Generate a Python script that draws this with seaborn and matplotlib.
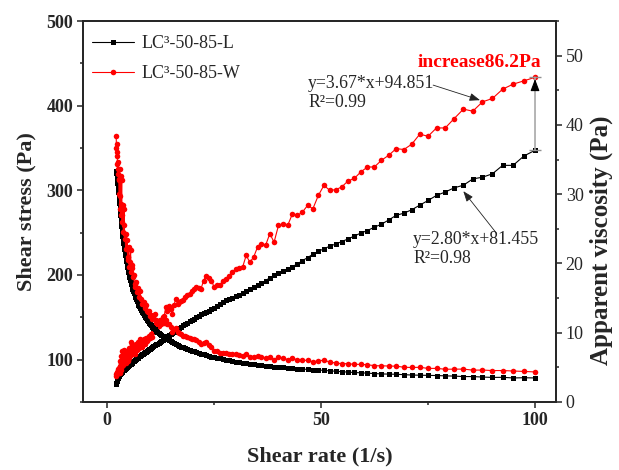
import matplotlib
matplotlib.use("Agg")
import matplotlib.pyplot as plt
import seaborn as sns
from matplotlib.ticker import MultipleLocator
from matplotlib.lines import Line2D

# ---------------- data ----------------
rate = [2.15, 2.21, 2.27, 2.33, 2.39, 2.45, 2.51, 2.58, 2.65, 2.72,
        2.79, 2.87, 2.94, 3.02, 3.10, 3.18, 3.27, 3.35, 3.44, 3.53,
        3.62, 3.72, 3.82, 3.92, 4.02, 4.13, 4.24, 4.35, 4.47, 4.59,
        4.71, 4.83, 4.96, 5.09, 5.23, 5.36, 5.51, 5.65, 5.80, 5.95,
        6.11, 6.27, 6.44, 6.61, 6.78, 6.96, 7.15, 7.34, 7.53, 7.73,
        7.94, 8.15, 8.36, 8.58, 8.81, 9.04, 9.28, 9.53, 9.78, 10.04,
        10.30, 10.58, 10.86, 11.14, 11.44, 11.74, 12.05, 12.37, 12.70, 13.03,
        13.38, 13.73, 14.10, 14.47, 14.85, 15.25, 15.65, 16.06, 16.49, 16.93,
        17.37, 17.83, 18.31, 18.79, 19.29, 19.80, 20.32, 20.86, 21.41, 21.98,
        22.56, 23.16, 23.77, 24.40, 25.04, 25.71, 26.39, 27.08, 27.80, 28.54,
        29.29, 30.07, 30.86, 31.68, 32.52, 33.38, 34.26, 35.17, 36.10, 37.05,
        38.04, 39.04, 40.07, 41.14, 42.22, 43.34, 44.49, 45.66, 46.87, 48.11,
        49.39, 50.69, 52.04, 53.41, 54.83, 56.28, 57.77, 59.29, 60.86, 62.47,
        64.13, 65.82, 67.57, 69.35, 71.19, 73.07, 75.01, 76.99, 79.03, 81.12,
        83.27, 85.47, 87.73, 90.05, 92.44, 94.88, 97.39, 100.0]

stress_L = [71.6, 73.0, 74.3, 75.5, 76.5, 77.5, 78.5, 79.5, 80.3, 81.0,
            81.8, 82.3, 82.8, 83.3, 83.8, 84.3, 84.8, 85.3, 85.8, 86.3,
            86.8, 87.2, 87.7, 88.2, 88.7, 89.2, 89.7, 90.2, 90.7, 91.2,
            91.8, 92.4, 93.0, 93.6, 94.2, 94.8, 95.4, 96.0, 96.6, 97.3,
            98.0, 98.7, 99.4, 100.1, 100.8, 101.5, 102.3, 103.1, 103.9, 104.7,
            105.5, 106.3, 107.1, 107.9, 108.7, 109.5, 110.4, 111.3, 112.2, 113.1,
            114.0, 115.0, 116.0, 117.0, 118.0, 119.0, 120.1, 121.2, 122.3, 123.5,
            124.8, 126.1, 127.4, 128.8, 130.2, 131.6, 133.0, 134.5, 136.0, 137.5,
            139.0, 140.5, 142.0, 143.6, 145.2, 146.8, 148.4, 150.0, 151.7, 153.4,
            155.0, 156.5, 158.0, 160.0, 161.5, 163.5, 166.0, 168.0, 170.0, 171.5,
            173.0, 175.0, 176.5, 179.0, 181.0, 183.5, 186.0, 188.0, 190.5, 193.0,
            197.0, 199.5, 202.5, 205.0, 207.5, 210.0, 213.0, 217.0, 220.5, 224.5,
            228.0, 231.0, 234.0, 236.5, 239.5, 242.5, 246.0, 249.5, 252.5, 256.5,
            260.0, 265.0, 270.5, 273.0, 277.0, 282.5, 288.0, 294.0, 298.0, 303.0,
            306.0, 313.5, 315.5, 319.5, 329.5, 329.5, 340.5, 347.3]

visc_L = [33.30, 33.08, 32.80, 32.47, 32.05, 31.63, 31.21, 30.80, 30.30, 29.78,
          29.30, 28.72, 28.15, 27.59, 27.04, 26.50, 25.97, 25.45, 24.94, 24.44,
          23.94, 23.43, 22.96, 22.50, 22.04, 21.59, 21.16, 20.73, 20.30, 19.89,
          19.50, 19.13, 18.75, 18.39, 18.03, 17.68, 17.33, 16.99, 16.66, 16.34,
          16.03, 15.73, 15.44, 15.14, 14.86, 14.58, 14.31, 14.05, 13.79, 13.54,
          13.29, 13.05, 12.81, 12.57, 12.34, 12.11, 11.89, 11.68, 11.47, 11.27,
          11.06, 10.87, 10.68, 10.50, 10.32, 10.14, 9.97, 9.80, 9.63, 9.48,
          9.33, 9.18, 9.04, 8.90, 8.77, 8.63, 8.50, 8.37, 8.25, 8.12,
          8.00, 7.88, 7.76, 7.64, 7.53, 7.42, 7.30, 7.19, 7.09, 6.98,
          6.87, 6.76, 6.65, 6.56, 6.45, 6.36, 6.29, 6.20, 6.11, 6.01,
          5.91, 5.82, 5.72, 5.65, 5.57, 5.50, 5.43, 5.35, 5.28, 5.21,
          5.18, 5.11, 5.05, 4.98, 4.91, 4.85, 4.79, 4.75, 4.70, 4.67,
          4.62, 4.56, 4.50, 4.43, 4.37, 4.31, 4.26, 4.21, 4.15, 4.11,
          4.05, 4.03, 4.00, 3.94, 3.89, 3.87, 3.84, 3.82, 3.77, 3.74,
          3.67, 3.67, 3.60, 3.55, 3.56, 3.47, 3.50, 3.47]

stress_W = [82.5, 81.0, 84.5, 82.5, 86.0, 84.0, 87.0, 85.0, 89.0, 87.0,
            90.0, 86.0, 99.0, 84.0, 92.0, 104.0, 88.0, 96.0, 110.0, 92.0,
            98.0, 106.0, 94.0, 100.0, 112.0, 97.0, 103.0, 96.0, 108.0, 101.0,
            110.0, 99.0, 104.0, 114.0, 102.0, 108.0, 121.0, 106.0, 112.0, 118.0,
            110.0, 115.0, 107.0, 113.0, 118.0, 111.0, 116.0, 121.0, 114.0, 124.0,
            118.0, 115.0, 121.0, 124.0, 119.0, 126.0, 122.0, 124.0, 128.0, 125.0,
            130.0, 127.0, 133.0, 142.0, 136.0, 134.0, 140.0, 146.0, 143.0, 150.0,
            152.0, 161.9, 158.0, 163.9, 160.0, 154.1, 164.0, 171.8, 166.0, 167.8,
            169.8, 170.5, 173.7, 176.0, 177.8, 181.0, 183.7, 185.6, 184.5, 183.7,
            193.5, 199.4, 196.0, 193.5, 185.6, 187.6, 187.6, 193.5, 195.5, 199.0,
            203.3, 207.3, 208.0, 209.2, 223.1, 215.1, 221.1, 232.9, 236.9, 234.9,
            248.8, 238.8, 258.6, 260.6, 258.6, 272.4, 270.4, 274.3, 282.2, 278.3,
            294.1, 305.9, 300.0, 300.8, 303.9, 311.0, 314.0, 321.7, 327.6, 327.6,
            335.5, 341.4, 349.3, 348.2, 354.4, 366.3, 363.9, 373.7, 373.7, 384.8,
            395.9, 393.5, 404.5, 408.5, 419.5, 425.4, 429.3, 433.5]

visc_W = [38.37, 36.70, 37.31, 35.48, 36.03, 34.29, 34.59, 32.93, 33.58, 31.99,
          32.23, 30.01, 33.66, 27.82, 29.69, 32.69, 26.95, 28.64, 31.98, 26.05,
          27.03, 28.49, 24.61, 25.51, 27.83, 23.48, 24.29, 22.06, 24.18, 22.03,
          23.37, 20.49, 20.97, 22.40, 19.52, 20.14, 21.98, 18.76, 19.31, 19.82,
          18.00, 18.33, 16.62, 17.10, 17.39, 15.94, 16.23, 16.49, 15.14, 16.04,
          14.87, 14.12, 14.47, 14.45, 13.51, 13.93, 13.14, 13.01, 13.09, 12.45,
          12.62, 12.01, 12.25, 12.74, 11.89, 11.41, 11.62, 11.80, 11.26, 11.51,
          11.36, 11.79, 11.21, 11.33, 10.77, 10.11, 10.48, 10.69, 10.07, 9.91,
          9.77, 9.56, 9.49, 9.37, 9.22, 9.14, 9.04, 8.90, 8.62, 8.36,
          8.58, 8.61, 8.25, 7.93, 7.41, 7.30, 7.11, 7.14, 7.03, 6.97,
          6.94, 6.89, 6.74, 6.60, 6.86, 6.44, 6.45, 6.62, 6.56, 6.34,
          6.54, 6.12, 6.45, 6.34, 6.12, 6.29, 6.08, 6.01, 6.02, 5.78,
          5.96, 6.03, 5.77, 5.63, 5.54, 5.53, 5.44, 5.43, 5.38, 5.24,
          5.23, 5.19, 5.17, 5.02, 4.98, 5.01, 4.85, 4.85, 4.73, 4.74,
          4.75, 4.60, 4.61, 4.54, 4.54, 4.48, 4.41, 4.34]

series_labels = ["LC\u00b3-50-85-L", "LC\u00b3-50-85-W"]
x_ticks = [0, 50, 100]
y_ticks = [100, 200, 300, 400, 500]
y2_ticks = [0, 10, 20, 30, 40, 50]
fit_L = "y=2.80*x+81.455\nR\u00b2=0.98"
fit_W = "y=3.67*x+94.851\nR\u00b2=0.99"
increase_text = "increase86.2Pa"

# ---------------- styling ----------------
sns.set_style("ticks")
plt.rcParams['font.family'] = ['Liberation Serif', 'DejaVu Serif']
plt.rcParams['axes.linewidth'] = 1.3
for k in ['xtick.major.width', 'ytick.major.width', 'xtick.minor.width', 'ytick.minor.width']:
    plt.rcParams[k] = 1.1

fig = plt.figure(figsize=(6.19, 4.70), dpi=100)
ax = fig.add_axes([0.1341, 0.1447, 0.7641, 0.8106])
ax2 = ax.twinx()

ms_L, ms_W = 3.6, 4.0
common = dict(estimator=None, sort=False, linewidth=0.8, markeredgewidth=0, legend=False)
sns.lineplot(x=rate, y=stress_L, ax=ax, color='black', marker='s', markersize=ms_L, **common)
sns.lineplot(x=rate, y=stress_W, ax=ax, color='red', marker='o', markersize=ms_W, **common)
sns.lineplot(x=rate, y=visc_L, ax=ax2, color='black', marker='s', markersize=ms_L, **common)
sns.lineplot(x=rate, y=visc_W, ax=ax2, color='red', marker='o', markersize=ms_W, **common)

# axes limits & ticks
ax.set_xlim(-5.6, 104.9)
ax.set_ylim(50, 500)
ax2.set_ylim(0, 55)
ax.set_xticks(x_ticks)
ax.set_xticklabels([str(v) for v in x_ticks], fontweight='bold', fontsize=13)
ax.set_yticks(y_ticks)
ax.set_yticklabels([str(v) for v in y_ticks], fontweight='bold', fontsize=13)
ax2.set_yticks(y2_ticks)
ax2.set_yticklabels([str(v) for v in y2_ticks], fontsize=13)
ax.xaxis.set_minor_locator(MultipleLocator(25))
ax.yaxis.set_minor_locator(MultipleLocator(50))
ax2.yaxis.set_minor_locator(MultipleLocator(5))
ax.tick_params(axis='both', which='major', direction='out', length=4, pad=3,
               top=False, right=False)
ax.tick_params(axis='both', which='minor', direction='out', length=2.5,
               top=False, right=False)
ax2.tick_params(axis='y', which='major', direction='out', length=4, pad=3)
ax2.tick_params(axis='y', which='minor', direction='out', length=2.5)
for sp in ax2.spines.values():
    sp.set_linewidth(1.3)

ax.set_xlabel("Shear rate (1/s)", fontsize=16, fontweight='bold', labelpad=13)
ax.set_ylabel("Shear stress (Pa)", fontsize=16, fontweight='bold', labelpad=7)
ax2.set_ylabel("Apparent viscosity (Pa)", fontsize=18, fontweight='bold')
ax2.yaxis.set_label_coords(1.072, 0.425)

# legend
handles = [Line2D([], [], color='black', marker='s', markersize=ms_L, lw=0.8, markeredgewidth=0),
           Line2D([], [], color='red', marker='o', markersize=ms_W, lw=0.8, markeredgewidth=0)]
ax2.legend(handles, series_labels, loc='upper left', bbox_to_anchor=(0.019, 0.962),
           frameon=False, fontsize=13, handlelength=2.3, handletextpad=0.45,
           labelspacing=0.7, borderpad=0, borderaxespad=0)

# annotations
head = '-|>,head_length=0.45,head_width=0.17'
ax.text(47.0, 436, fit_W, fontsize=12.8, ha='left', va='top', linespacing=1.15)
ax.annotate('', xy=(87.15, 406.5), xytext=(76.2, 424.3),
            arrowprops=dict(arrowstyle=head, color='#222222', lw=0.6,
                            mutation_scale=14, shrinkA=0, shrinkB=0))
ax.text(71.5, 252, fit_L, fontsize=12.8, ha='left', va='top', linespacing=1.15)
ax.annotate('', xy=(83.25, 299), xytext=(91.05, 249),
            arrowprops=dict(arrowstyle=head, color='#222222', lw=0.6,
                            mutation_scale=14, shrinkA=0, shrinkB=0))
ax.text(87.0, 450.5, increase_text, color='red', fontweight='bold', fontsize=14,
        ha='center', va='center')

xe, yl, yw = rate[-1], stress_L[-1], stress_W[-1]
ax.annotate('', xy=(xe, yw), xytext=(xe, yl),
            arrowprops=dict(arrowstyle='-', color='#a8a8a8', lw=1.2,
                            shrinkA=0, shrinkB=0))
ax.hlines([yl, yw], xe - 1.3, xe + 1.3, colors='#909090', lw=1.0)
ax.annotate('', xy=(xe, yw - 2), xytext=(xe, yw - 14),
            arrowprops=dict(arrowstyle=head, color='black', lw=0.8,
                            mutation_scale=16, shrinkA=0, shrinkB=0))

fig.savefig("out.png", dpi=100)
